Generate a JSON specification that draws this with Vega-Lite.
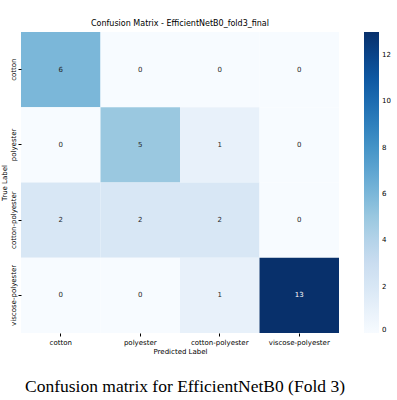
{
  "$schema": "https://vega.github.io/schema/vega-lite/v6.json",
  "padding": {"left": 0, "top": 20, "right": 0, "bottom": 0},
  "background": "white",
  "config": {"font": "DejaVu Sans", "view": {"stroke": null}, "concat": {"spacing": 13}},
  "spacing": 13,
  "vconcat": [
    {
      "width": 318,
      "height": 301,
      "title": {"text": "Confusion Matrix - EfficientNetB0_fold3_final", "fontSize": 8, "fontWeight": "normal", "font": "DejaVu Sans", "color": "black", "offset": 4},
      "data": {"values": [
        {"true": "cotton", "pred": "cotton", "count": 6},
        {"true": "cotton", "pred": "polyester", "count": 0},
        {"true": "cotton", "pred": "cotton-polyester", "count": 0},
        {"true": "cotton", "pred": "viscose-polyester", "count": 0},
        {"true": "polyester", "pred": "cotton", "count": 0},
        {"true": "polyester", "pred": "polyester", "count": 5},
        {"true": "polyester", "pred": "cotton-polyester", "count": 1},
        {"true": "polyester", "pred": "viscose-polyester", "count": 0},
        {"true": "cotton-polyester", "pred": "cotton", "count": 2},
        {"true": "cotton-polyester", "pred": "polyester", "count": 2},
        {"true": "cotton-polyester", "pred": "cotton-polyester", "count": 2},
        {"true": "cotton-polyester", "pred": "viscose-polyester", "count": 0},
        {"true": "viscose-polyester", "pred": "cotton", "count": 0},
        {"true": "viscose-polyester", "pred": "polyester", "count": 0},
        {"true": "viscose-polyester", "pred": "cotton-polyester", "count": 1},
        {"true": "viscose-polyester", "pred": "viscose-polyester", "count": 13}
      ]},
      "encoding": {
        "x": {"field": "pred", "type": "nominal", "sort": ["cotton", "polyester", "cotton-polyester", "viscose-polyester"], "scale": {"padding": 0},
              "axis": {"title": "Predicted Label", "labelAngle": 0, "labelFontSize": 7, "titleFontSize": 7, "titleFontWeight": "normal", "tickSize": 3, "domain": false, "labelPadding": 2, "titlePadding": 2, "labelColor": "black", "titleColor": "black", "tickColor": "black"}},
        "y": {"field": "true", "type": "nominal", "sort": ["cotton", "polyester", "cotton-polyester", "viscose-polyester"], "scale": {"padding": 0},
              "axis": {"title": "True Label", "labelAngle": 270, "labelFontSize": 7, "titleFontSize": 7, "titleFontWeight": "normal", "tickSize": 3, "domain": false, "labelPadding": 2, "titlePadding": 2, "labelColor": "black", "titleColor": "black", "tickColor": "black"}}
      },
      "layer": [
        {
          "mark": {"type": "rect"},
          "encoding": {
            "color": {"field": "count", "type": "quantitative",
              "scale": {"domain": [0, 1.625, 3.25, 4.875, 6.5, 8.125, 9.75, 11.375, 13], "range": ["#f7fbff", "#deebf7", "#c6dbef", "#9ecae1", "#6baed6", "#4292c6", "#2171b5", "#08519c", "#08306b"]},
              "legend": {"title": null, "orient": "right", "offset": 19, "direction": "vertical", "gradientLength": 301, "gradientThickness": 15, "gradientStrokeWidth": 0, "values": [0, 2, 4, 6, 8, 10, 12], "labelFontSize": 7, "labelOffset": 3, "labelColor": "black"}}
          }
        },
        {
          "mark": {"type": "text", "fontSize": 7, "font": "DejaVu Sans"},
          "encoding": {
            "text": {"field": "count", "type": "quantitative"},
            "color": {"condition": {"test": "datum.count > 8", "value": "white"}, "value": "#262626"}
          }
        }
      ]
    },
    {
      "width": 318,
      "height": 40,
      "data": {"values": [{"caption": "Confusion matrix for EfficientNetB0 (Fold 3)"}]},
      "mark": {"type": "text", "font": "Liberation Serif", "fontSize": 17.5, "color": "black", "baseline": "middle", "align": "center", "dx": 5},
      "encoding": {"text": {"field": "caption", "type": "nominal"}}
    }
  ]
}
